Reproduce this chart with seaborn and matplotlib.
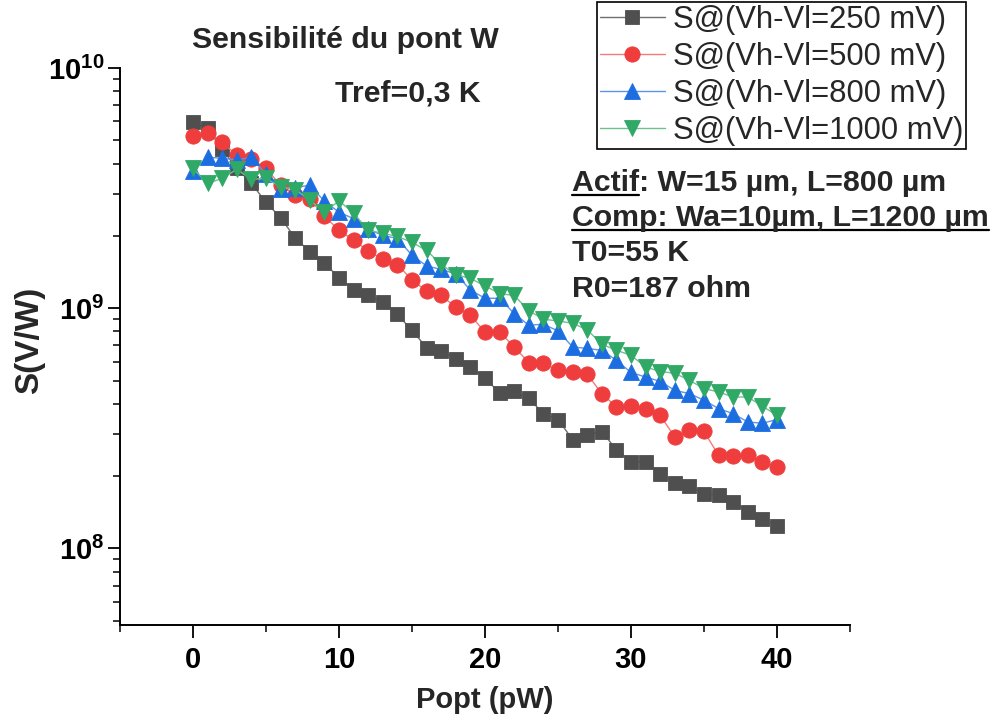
import matplotlib
matplotlib.use("Agg")
import numpy as np
import pandas as pd
import seaborn as sns
import matplotlib.pyplot as plt
from matplotlib.ticker import LogLocator, MultipleLocator, FuncFormatter, NullFormatter
from matplotlib.lines import Line2D

# ---------------- data ----------------
popt = list(range(41))
labels = ["S@(Vh-Vl=250 mV)", "S@(Vh-Vl=500 mV)", "S@(Vh-Vl=800 mV)", "S@(Vh-Vl=1000 mV)"]

s250 = [5.94e9, 5.61e9, 4.58e9, 3.82e9, 3.31e9, 2.76e9, 2.38e9, 1.96e9, 1.72e9, 1.54e9,
        1.34e9, 1.19e9, 1.13e9, 1.06e9, 9.42e8, 8.08e8, 6.86e8, 6.64e8, 6.17e8, 5.70e8,
        5.13e8, 4.43e8, 4.51e8, 4.21e8, 3.64e8, 3.44e8, 2.84e8, 2.96e8, 3.06e8, 2.58e8,
        2.30e8, 2.29e8, 2.05e8, 1.88e8, 1.82e8, 1.69e8, 1.67e8, 1.56e8, 1.42e8, 1.32e8,
        1.24e8]
s500 = [5.21e9, 5.38e9, 4.90e9, 4.34e9, 4.17e9, 3.82e9, 3.25e9, 2.96e9, 2.84e9, 2.42e9,
        2.11e9, 1.92e9, 1.73e9, 1.60e9, 1.52e9, 1.31e9, 1.18e9, 1.13e9, 1.01e9, 9.33e8,
        7.96e8, 7.96e8, 6.90e8, 5.94e8, 5.89e8, 5.52e8, 5.40e8, 5.31e8, 4.41e8, 3.88e8,
        3.93e8, 3.79e8, 3.58e8, 2.91e8, 3.10e8, 3.07e8, 2.44e8, 2.42e8, 2.44e8, 2.29e8,
        2.18e8]
s800 = [3.73e9, 4.25e9, 4.21e9, 4.14e9, 4.25e9, 3.61e9, 3.15e9, 3.18e9, 3.25e9, 2.79e9,
        2.51e9, 2.36e9, 2.13e9, 2.01e9, 1.95e9, 1.66e9, 1.50e9, 1.45e9, 1.39e9, 1.19e9,
        1.10e9, 1.10e9, 9.50e8, 8.49e8, 8.58e8, 8.04e8, 6.90e8, 6.80e8, 6.68e8, 6.07e8,
        5.40e8, 5.17e8, 4.96e8, 4.55e8, 4.41e8, 4.14e8, 3.82e8, 3.64e8, 3.36e8, 3.32e8,
        3.44e8]
s1000 = [3.82e9, 3.31e9, 3.47e9, 3.79e9, 3.44e9, 3.47e9, 3.20e9, 3.12e9, 2.82e9, 2.51e9,
         2.80e9, 2.49e9, 2.11e9, 2.05e9, 1.99e9, 1.88e9, 1.74e9, 1.52e9, 1.38e9, 1.33e9,
         1.24e9, 1.15e9, 1.13e9, 9.77e8, 9.00e8, 8.85e8, 8.66e8, 8.13e8, 7.08e8, 6.68e8,
         6.37e8, 5.69e8, 5.45e8, 5.36e8, 5.01e8, 4.63e8, 4.48e8, 4.27e8, 4.27e8, 3.91e8,
         3.58e8]

title = "Sensibilité du pont W"
subtitle = "Tref=0,3 K"
info_lines = ["Actif: W=15 µm, L=800 µm", "Comp: Wa=10µm, L=1200 µm", "T0=55 K", "R0=187 ohm"]
xlabel = "Popt (pW)"
ylabel = "S(V/W)"

# ---------------- style ----------------
sns.set_theme(style="white")
plt.rcParams["font.family"] = ["Liberation Sans", "DejaVu Sans"]
plt.rcParams["mathtext.fontset"] = "custom"
plt.rcParams["mathtext.bf"] = "Liberation Sans:bold"
plt.rcParams["mathtext.rm"] = "Liberation Sans:bold"
plt.rcParams["mathtext.it"] = "Liberation Sans:bold:italic"

W, H = 994, 720
fig = plt.figure(figsize=(W / 100, H / 100), dpi=100)
fig.patch.set_facecolor("white")
ax = fig.add_axes([120 / W, 1 - 625 / H, 730 / W, (625 - 68) / H])
ax.set_facecolor("white")

series = [s250, s500, s800, s1000]
markers = ["s", "o", "^", "v"]
mcolors = ["#4f4f4f", "#ef3d3d", "#1c6ee0", "#30a866"]
lcolors = ["#6e6e6e", "#f37b7b", "#5b95e8", "#6cc190"]
msizes = [10, 11, 11.5, 11.5]

for vals, mk, mc, lc, ms, lab in zip(series, markers, mcolors, lcolors, msizes, labels):
    df = pd.DataFrame({"Popt": popt, "S": vals})
    sns.lineplot(data=df, x="Popt", y="S", ax=ax, color=lc, linewidth=1.0,
                 marker=mk, markersize=ms, markerfacecolor=mc, markeredgecolor=mc,
                 markeredgewidth=0.6, label=lab, legend=False)

ax.set_yscale("log")
ax.set_xlim(-5, 45)
ax.set_ylim(4.8e7, 1e10)

ax.xaxis.set_major_locator(MultipleLocator(10))
ax.xaxis.set_minor_locator(MultipleLocator(5))
ax.yaxis.set_major_locator(LogLocator(base=10))
ax.yaxis.set_minor_locator(LogLocator(base=10, subs=np.arange(2, 10)))
ax.yaxis.set_major_formatter(FuncFormatter(lambda v, p: r"$\mathbf{10^{%d}}$" % int(round(np.log10(v)))))
ax.yaxis.set_minor_formatter(NullFormatter())

for sp in ["top", "right"]:
    ax.spines[sp].set_visible(False)
for sp in ["left", "bottom"]:
    ax.spines[sp].set_color("black")
    ax.spines[sp].set_linewidth(1.4)

ax.tick_params(axis="both", which="major", direction="out", length=9, width=1.3,
               color="black", labelsize=21, labelcolor="black",
               left=True, bottom=True)
ax.tick_params(axis="y", which="major", pad=2)
ax.tick_params(axis="x", which="major", pad=6)
ax.tick_params(axis="both", which="minor", direction="out", length=5, width=1.1,
               color="black", left=True, bottom=True)
for lab in ax.get_xticklabels():
    lab.set_fontweight("bold")

ax.set_xlabel(xlabel, fontsize=21, fontweight="bold")
ax.set_ylabel(ylabel, fontsize=24, fontweight="bold")
ax.xaxis.set_label_coords((485 - 120) / 730, (625 - 700) / 557)
ax.xaxis.label.set_va("center")
ax.yaxis.set_label_coords((30 - 120) / 730, (625 - 340) / 557)
ax.yaxis.label.set_va("center")

# legend
handles, labs = ax.get_legend_handles_labels()
leg = ax.legend(handles, labs, loc="upper right", bbox_to_anchor=(966 / W, 1 - 2 / H),
                bbox_transform=fig.transFigure, borderaxespad=0, fontsize=22.3,
                frameon=True, fancybox=False, edgecolor="black", framealpha=1,
                handlelength=2.1, handletextpad=0.25, labelspacing=0.22, borderpad=0.1)
leg.get_frame().set_linewidth(1.2)

# texts
FS = 21.8
fig.text(345 / W, 1 - 48 / H, title, ha="center", va="baseline", fontsize=FS, fontweight="bold")
fig.text(408 / W, 1 - 102 / H, subtitle, ha="center", va="baseline", fontsize=FS, fontweight="bold")
baselines = [191, 226, 261, 297]
info_texts = []
for line, yb in zip(info_lines, baselines):
    t = fig.text(572 / W, 1 - yb / H, line, ha="left", va="baseline", fontsize=FS, fontweight="bold")
    info_texts.append(t)

# underline "Actif" and whole "Comp..." line
fig.canvas.draw()
renderer = fig.canvas.get_renderer()
tmp = fig.text(572 / W, 1 - baselines[0] / H, "Actif", ha="left", va="baseline", fontsize=FS, fontweight="bold")
bb_actif = tmp.get_window_extent(renderer)
tmp.remove()
bb_comp = info_texts[1].get_window_extent(renderer)
for (x0, x1), yb in [((bb_actif.x0, bb_actif.x1), baselines[0]), ((bb_comp.x0, bb_comp.x1), baselines[1])]:
    yy = (H - yb - 4) / H
    fig.add_artist(Line2D([x0 / W, x1 / W], [yy, yy], color="black", linewidth=1.6,
                          transform=fig.transFigure))

fig.savefig("out.png", dpi=100, facecolor="white")
